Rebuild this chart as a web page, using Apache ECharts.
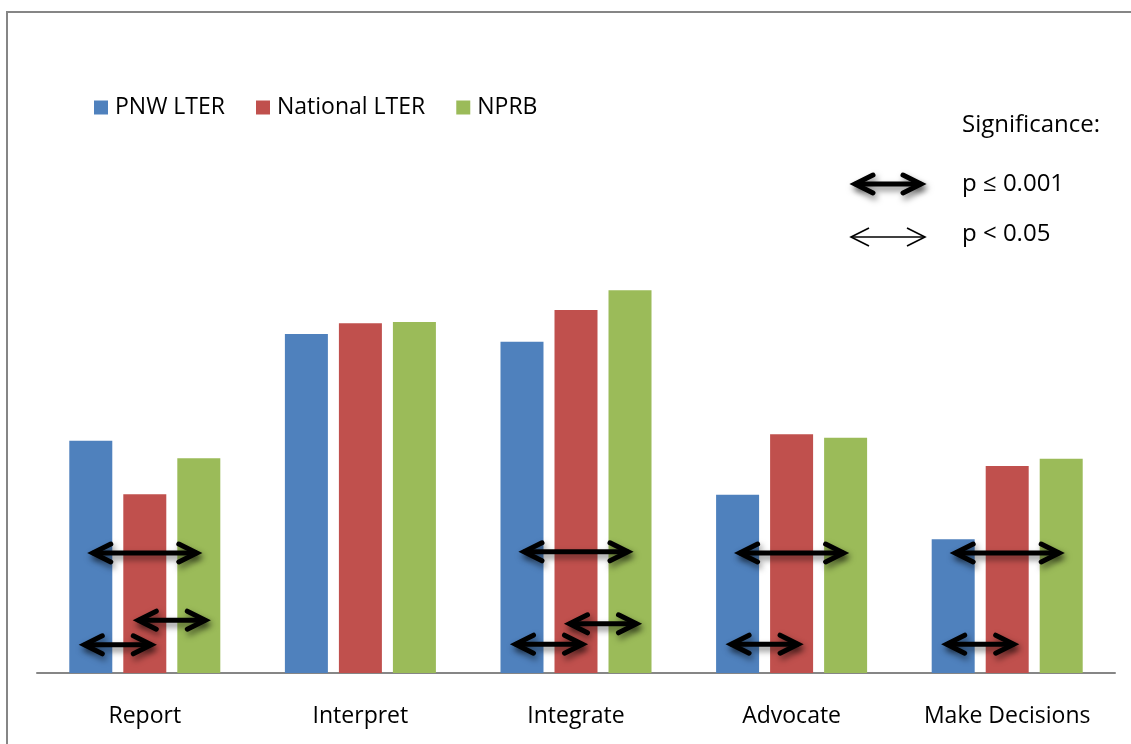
<!DOCTYPE html>
<html>
<head>
<meta charset="utf-8">
<script src="https://cdn.jsdelivr.net/npm/echarts@6/dist/echarts.min.js"></script>
<style>
  html, body { margin: 0; padding: 0; background: #fff; }
  #chart { width: 1131px; height: 744px; }
</style>
</head>
<body>
<div id="chart"></div>
<script>
// Share of respondents per communication role, by group (percent)
const categories = ['Report', 'Interpret', 'Integrate', 'Advocate', 'Make Decisions'];
const seriesNames = ['PNW LTER', 'National LTER', 'NPRB'];
const pnwLter = [38.7, 56.5, 55.2, 29.7, 22.3];
const nationalLter = [29.8, 58.3, 60.5, 39.8, 34.5];
const nprb = [35.8, 58.5, 63.8, 39.2, 35.7];

// Significant pairwise differences: [category index, group A, group B, height on value axis, level]
// level 1 = p <= 0.001, level 2 = p < 0.05
const comparisons = [
  [0, 0, 2, 20.0, 1],
  [0, 1, 2, 8.8, 1],
  [0, 0, 1, 4.7, 1],
  [2, 0, 2, 20.2, 1],
  [2, 1, 2, 8.2, 1],
  [2, 0, 1, 4.8, 1],
  [3, 0, 2, 20.0, 1],
  [3, 0, 1, 4.8, 1],
  [4, 0, 2, 20.0, 1],
  [4, 0, 1, 4.8, 1]
];

const significanceTitle = 'Significance:';
const significanceLabels = ['p \u2264 0.001', 'p < 0.05'];

const COLORS = ['#4F81BD', '#C0504D', '#9BBB59'];
const FONT = "'Open Sans', sans-serif";
const BAR_WIDTH = 43;
const BAR_GAP = 0.256;
const SLOT = BAR_WIDTH * (1 + BAR_GAP);

const strongStyle = {
  fill: null, stroke: '#000', lineWidth: 5, lineJoin: 'miter', lineCap: 'round',
  shadowBlur: 6, shadowColor: 'rgba(0,0,0,0.5)', shadowOffsetX: 2, shadowOffsetY: 4
};
const weakStyle = { fill: null, stroke: '#000', lineWidth: 1.6, lineJoin: 'miter' };

// Double-headed arrow built from three polylines (left head, shaft, right head)
function arrowParts(x1, x2, y, hl, hh, style) {
  return [
    { type: 'polyline', shape: { points: [[x1 + hl, y - hh], [x1, y], [x1 + hl, y + hh]] }, style: style },
    { type: 'polyline', shape: { points: [[x1 + 1, y], [x2 - 1, y]] }, style: style },
    { type: 'polyline', shape: { points: [[x2 - hl, y - hh], [x2, y], [x2 - hl, y + hh]] }, style: style }
  ];
}

function renderComparison(params, api) {
  const cat = api.value(0), a = api.value(1), b = api.value(2), v = api.value(3), level = api.value(4);
  const p = api.coord([cat, v]);
  const mid = p[0] + ((a + b) / 2 - 1) * SLOT;
  const half = (Math.abs(b - a) === 1 ? 67 : 104) / 2;
  return {
    type: 'group',
    children: arrowParts(mid - half, mid + half, p[1], 18, 9, level === 1 ? strongStyle : weakStyle)
  };
}

const chart = echarts.init(document.getElementById('chart'), null, { renderer: 'canvas' });

const seriesData = [pnwLter, nationalLter, nprb];

const option = {
  animation: false,
  textStyle: { fontFamily: FONT },
  grid: { left: 37, right: 16, top: 73, bottom: 71, containLabel: false },
  legend: {
    data: seriesNames,
    left: 89, top: 91,
    icon: 'rect', itemWidth: 14, itemHeight: 14, itemGap: 31,
    textStyle: { fontSize: 23, color: '#000', fontFamily: FONT, padding: [0, 0, 0, 2] }
  },
  xAxis: {
    type: 'category',
    data: categories,
    axisLine: { lineStyle: { color: '#868686', width: 2 } },
    axisTick: { show: false },
    axisLabel: { fontSize: 23, color: '#000', fontFamily: FONT, margin: 32, interval: 0 }
  },
  yAxis: { type: 'value', min: 0, max: 100, show: false, splitLine: { show: false } },
  series: seriesNames.map((name, i) => ({
    name: name,
    type: 'bar',
    data: seriesData[i],
    barWidth: BAR_WIDTH,
    barGap: (BAR_GAP * 100) + '%',
    itemStyle: { color: COLORS[i] }
  })).concat([{
    type: 'custom',
    name: 'comparisons',
    coordinateSystem: 'cartesian2d',
    renderItem: renderComparison,
    data: comparisons,
    encode: { x: 0, y: 3 },
    z: 10,
    silent: true
  }]),
  graphic: [
    { type: 'rect', z: -1, shape: { x: 7, y: 12, width: 1200, height: 800 },
      style: { fill: null, stroke: '#868686', lineWidth: 2 } },
    { type: 'text', x: 962, y: 113,
      style: { text: significanceTitle, fontSize: 24, fill: '#000', fontFamily: FONT } },
    { type: 'group', children: arrowParts(855, 921, 184, 18, 9, strongStyle) },
    { type: 'text', x: 962, y: 172,
      style: { text: significanceLabels[0], fontSize: 24, fill: '#000', fontFamily: FONT } },
    { type: 'group', children: arrowParts(851, 925, 237, 18, 9, weakStyle) },
    { type: 'text', x: 962, y: 222,
      style: { text: significanceLabels[1], fontSize: 24, fill: '#000', fontFamily: FONT } }
  ]
};

chart.setOption(option);
</script>
</body>
</html>
